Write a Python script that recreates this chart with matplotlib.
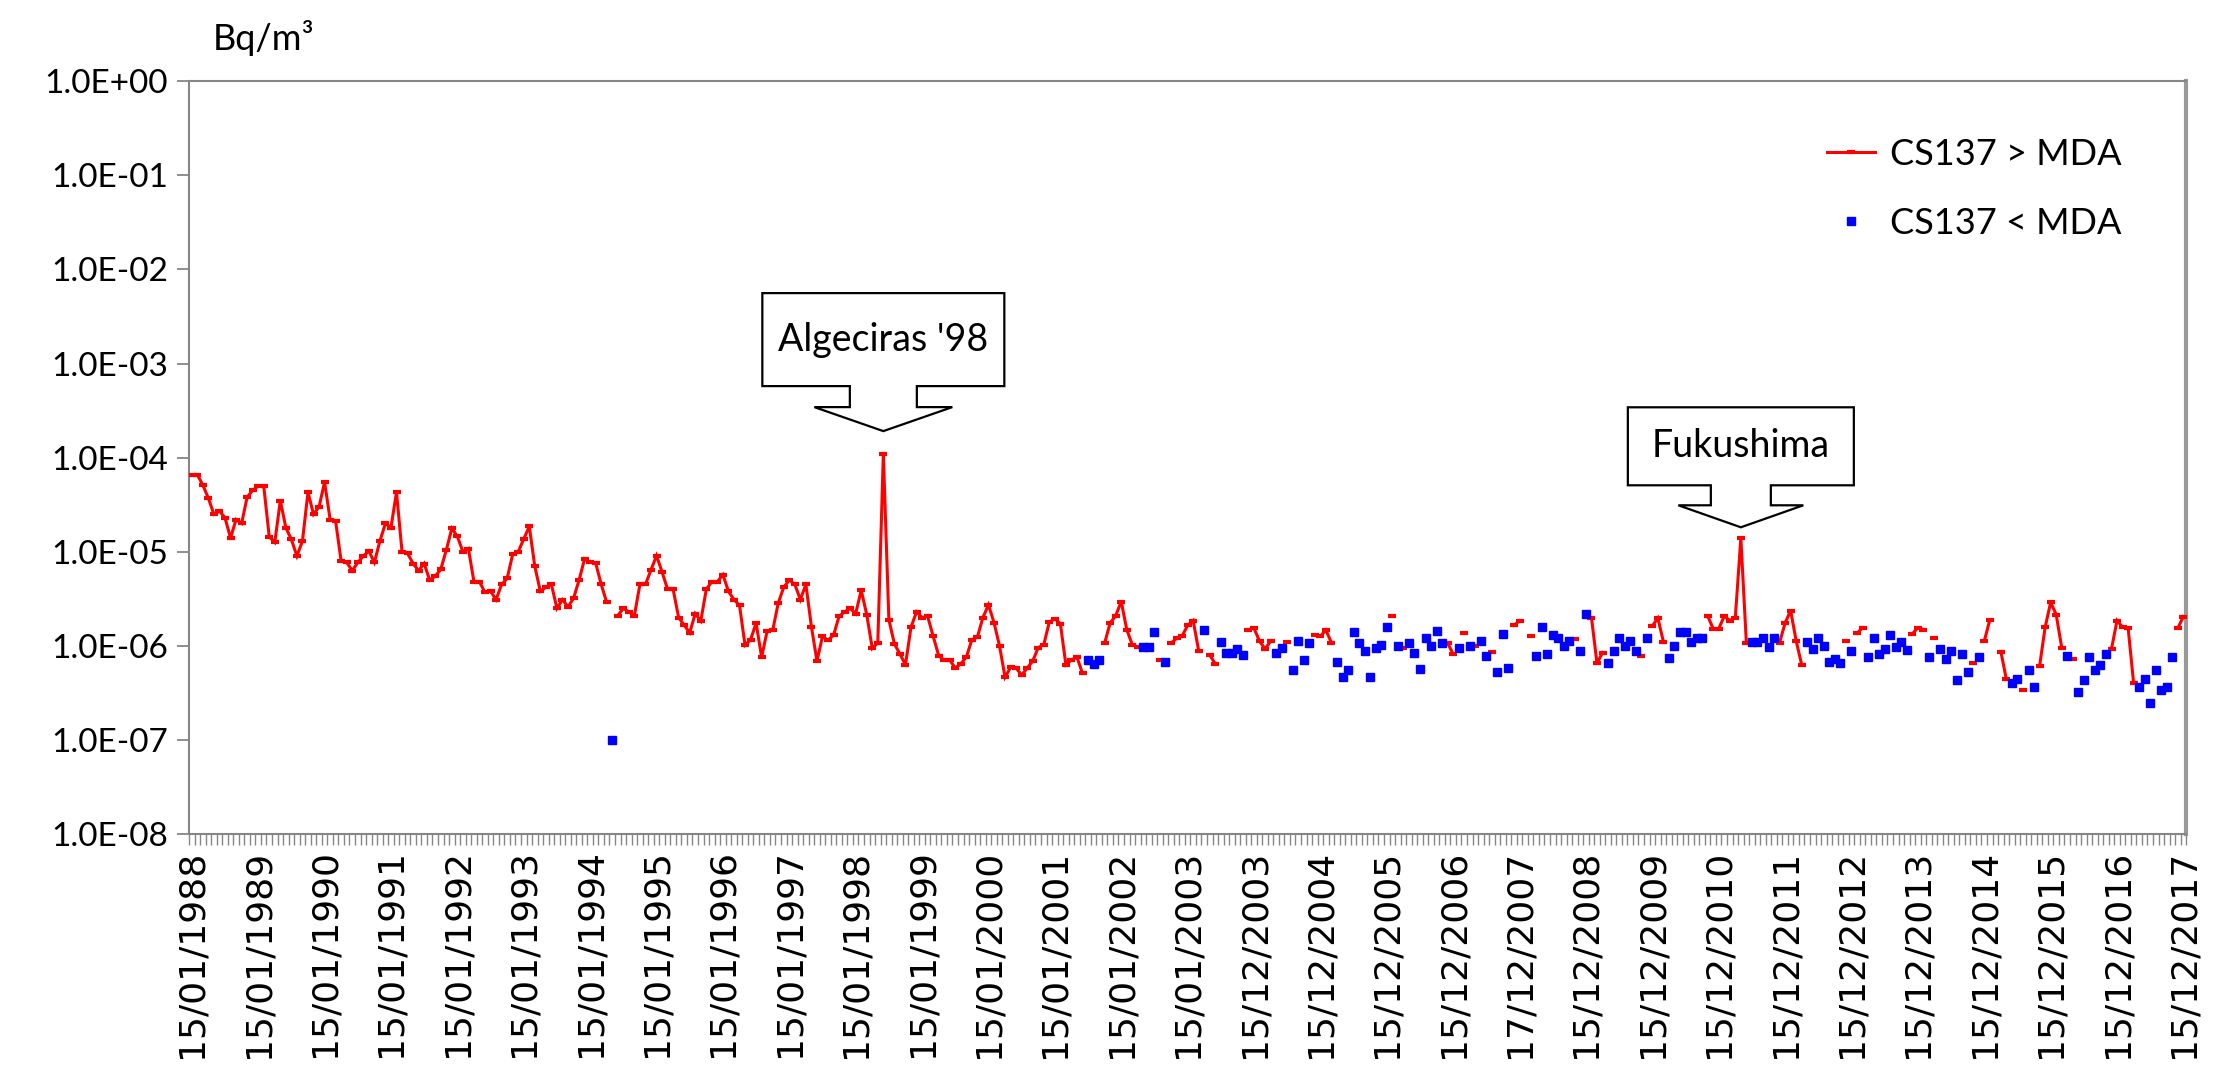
import numpy as np
import matplotlib.pyplot as plt
import matplotlib.transforms as mtransforms
from matplotlib.patches import Polygon
from matplotlib.lines import Line2D

# Cs-137 in air, one sample per month (361 samples), Bq/m3
# values above the MDA, None where the sample was below it
cs137_above = [
    6.6e-5, 6.6e-5, 5.1e-5, 3.7e-5, 2.5e-5, 2.7e-5, 2.3e-5, 1.4e-5, 2.2e-5, 2.0e-5, 3.8e-5, 4.5e-5,
    5.0e-5, 5.0e-5, 1.44e-5, 1.26e-5, 3.5e-5, 1.8e-5, 1.35e-5, 9.0e-6, 1.3e-5, 4.3e-5, 2.5e-5, 3.0e-5,
    5.5e-5, 2.2e-5, 2.1e-5, 7.9e-6, 7.7e-6, 6.3e-6, 7.7e-6, 9.0e-6, 1.02e-5, 7.7e-6, 1.3e-5, 2.0e-5,
    1.8e-5, 4.3e-5, 1.0e-5, 9.6e-6, 7.5e-6, 6.3e-6, 7.5e-6, 5.0e-6, 5.5e-6, 6.5e-6, 1.04e-5, 1.77e-5,
    1.46e-5, 1.0e-5, 1.08e-5, 4.8e-6, 4.8e-6, 3.7e-6, 3.8e-6, 3.1e-6, 4.5e-6, 5.2e-6, 9.4e-6, 1.0e-5,
    1.36e-5, 1.86e-5, 7.0e-6, 3.8e-6, 4.2e-6, 4.5e-6, 2.5e-6, 3.1e-6, 2.6e-6, 3.2e-6, 5.0e-6, 8.4e-6,
    7.7e-6, 7.6e-6, 4.5e-6, 2.9e-6, None, 2.1e-6, 2.5e-6, 2.3e-6, 2.1e-6, 4.5e-6, 4.5e-6, 6.4e-6,
    9.1e-6, 6.1e-6, 4.0e-6, 4.0e-6, 2.0e-6, 1.66e-6, 1.38e-6, 2.2e-6, 1.84e-6, 4.0e-6, 4.8e-6, 4.8e-6,
    5.7e-6, 3.8e-6, 3.1e-6, 2.7e-6, 1.02e-6, 1.16e-6, 1.75e-6, 7.6e-7, 1.44e-6, 1.46e-6, 2.85e-6, 4.2e-6,
    5.0e-6, 4.5e-6, 3.1e-6, 4.5e-6, 1.6e-6, 6.9e-7, 1.26e-6, 1.15e-6, 1.3e-6, 2.06e-6, 2.3e-6, 2.5e-6,
    2.2e-6, 3.9e-6, 2.15e-6, 9.4e-7, 1.08e-6, 1.09e-4, 1.9e-6, 1.05e-6, 8.2e-7, 6.3e-7, 1.58e-6, 2.3e-6,
    2.0e-6, 2.07e-6, 1.27e-6, 7.9e-7, 7.0e-7, 7.1e-7, 5.8e-7, 6.45e-7, 7.6e-7, 1.16e-6, 1.24e-6, 2.0e-6,
    2.73e-6, 1.77e-6, 1.0e-6, 4.65e-7, 5.9e-7, 5.8e-7, 4.9e-7, 5.8e-7, 6.9e-7, 9.6e-7, 1.03e-6, 1.79e-6,
    1.94e-6, 1.72e-6, 6.3e-7, 7.1e-7, 7.6e-7, 5.1e-7, None, None, None, 1.07e-6, 1.75e-6, 2.09e-6,
    2.96e-6, 1.49e-6, 1.03e-6, 9.7e-7, None, None, None, 7.1e-7, None, 1.07e-6, 1.2e-6, 1.27e-6,
    1.65e-6, 1.86e-6, 8.9e-7, None, 8.0e-7, 6.45e-7, None, None, None, None, None, 1.49e-6,
    1.54e-6, 1.12e-6, 9.3e-7, 1.12e-6, None, None, 1.09e-6, None, None, None, None, 1.3e-6,
    1.27e-6, 1.47e-6, 1.08e-6, None, None, None, None, None, None, None, None, None,
    None, 2.1e-6, None, 9.6e-7, None, None, None, None, None, None, None, 1.07e-6,
    8.2e-7, None, 1.36e-6, None, 1.0e-6, None, None, 8.6e-7, None, None, None, 1.65e-6,
    1.85e-6, None, 1.27e-6, None, None, None, None, None, None, None, 1.18e-6, None,
    None, 2.0e-6, 6.5e-7, 8.5e-7, None, None, None, None, None, None, 7.8e-7, None,
    1.63e-6, 1.97e-6, 1.11e-6, None, None, None, None, None, None, None, 2.09e-6, 1.52e-6,
    1.52e-6, 2.07e-6, 1.86e-6, 2.0e-6, 1.39e-5, 1.07e-6, None, None, None, None, None, 1.08e-6,
    1.75e-6, 2.37e-6, 1.13e-6, 6.3e-7, None, None, None, None, None, None, None, 1.12e-6,
    None, 1.36e-6, 1.56e-6, None, None, None, None, None, None, None, None, 1.34e-6,
    1.56e-6, 1.49e-6, None, 1.2e-6, None, None, None, None, None, None, 6.6e-7, None,
    1.12e-6, 1.89e-6, None, 8.7e-7, 4.4e-7, None, None, 3.4e-7, None, None, 6.1e-7, 1.57e-6,
    2.9e-6, 2.15e-6, 9.6e-7, None, 7.2e-7, None, None, None, None, None, None, 9.3e-7,
    1.86e-6, 1.58e-6, 1.56e-6, 4.0e-7, None, None, None, None, None, None, None, 1.55e-6,
    2.05e-6,
]

# samples below the MDA: month index and value
below_month = [
    76, 162, 163, 164, 172, 173, 174, 176, 183, 186, 187, 188, 189, 190,
    196, 197, 199, 200, 201, 202, 207, 208, 209, 210, 211, 212, 213, 214, 215, 216,
    218, 220, 221, 222, 223, 224, 225, 226, 229, 231, 233, 234, 236, 237, 238,
    243, 244, 245, 246, 247, 248, 249, 251, 252, 256, 257, 258, 259, 260, 261, 263,
    267, 268, 269, 270, 271, 272, 273, 282, 283, 284, 285, 286,
    292, 293, 294, 295, 296, 297, 298, 300, 303, 304, 305, 306, 307, 308, 309, 310,
    314, 316, 317, 318, 319, 320, 321, 323, 329, 330, 332, 333, 339,
    341, 342, 343, 344, 345, 346, 352, 353, 354, 355, 356, 357, 358,
]
below_value = [
    1.0e-7, 7.0e-7, 6.4e-7, 7.1e-7, 9.7e-7, 9.7e-7, 1.4e-6, 6.8e-7, 1.47e-6, 1.09e-6, 8.4e-7, 8.4e-7, 9.3e-7, 8.0e-7,
    8.3e-7, 9.5e-7, 5.6e-7, 1.12e-6, 7.0e-7, 1.06e-6, 6.8e-7, 4.7e-7, 5.6e-7, 1.4e-6, 1.06e-6, 8.9e-7, 4.7e-7, 9.4e-7, 1.03e-6, 1.58e-6,
    1.0e-6, 1.07e-6, 8.3e-7, 5.7e-7, 1.22e-6, 1.0e-6, 1.45e-6, 1.07e-6, 9.6e-7, 1.0e-6, 1.12e-6, 7.8e-7, 5.3e-7, 1.35e-6, 5.8e-7,
    7.8e-7, 1.6e-6, 8.1e-7, 1.32e-6, 1.22e-6, 1.0e-6, 1.12e-6, 8.8e-7, 2.2e-6, 6.6e-7, 8.9e-7, 1.22e-6, 1.0e-6, 1.12e-6, 8.9e-7, 1.22e-6,
    7.4e-7, 1.0e-6, 1.4e-6, 1.4e-6, 1.11e-6, 1.22e-6, 1.22e-6, 1.11e-6, 1.11e-6, 1.22e-6, 9.7e-7, 1.22e-6,
    1.11e-6, 9.3e-7, 1.22e-6, 1.0e-6, 6.8e-7, 7.3e-7, 6.6e-7, 8.9e-7, 7.7e-7, 1.22e-6, 8.2e-7, 9.3e-7, 1.3e-6, 9.7e-7, 1.11e-6, 9.1e-7,
    7.7e-7, 9.2e-7, 7.3e-7, 8.8e-7, 4.3e-7, 8.1e-7, 5.3e-7, 7.6e-7, 4.0e-7, 4.4e-7, 5.6e-7, 3.65e-7, 7.9e-7,
    3.2e-7, 4.3e-7, 7.6e-7, 5.6e-7, 6.3e-7, 8.1e-7, 3.65e-7, 4.4e-7, 2.5e-7, 5.5e-7, 3.4e-7, 3.7e-7, 7.7e-7,
]

date_labels = [
    "15/01/1988", "15/01/1989", "15/01/1990", "15/01/1991", "15/01/1992", "15/01/1993",
    "15/01/1994", "15/01/1995", "15/01/1996", "15/01/1997", "15/01/1998", "15/01/1999",
    "15/01/2000", "15/01/2001", "15/01/2002", "15/01/2003", "15/12/2003", "15/12/2004",
    "15/12/2005", "15/12/2006", "17/12/2007", "15/12/2008", "15/12/2009", "15/12/2010",
    "15/12/2011", "15/12/2012", "15/12/2013", "15/12/2014", "15/12/2015", "15/12/2016",
    "15/12/2017",
]

# events marked with a callout: (text, month index)
events = [("Algeciras '98", 125), ("Fukushima", 280)]

UI_FONT = "Lato"
GREY = "#868686"

above = np.array(cs137_above, dtype=float)
months = np.arange(len(above))

fig = plt.figure(figsize=(22.24, 10.68), dpi=100)
ax = fig.add_axes([0.085, 0.219, 0.898, 0.705])

ax.plot(months, above, color="#FF0000", lw=2.2, marker="_", ms=6, mew=3,
        solid_joinstyle="miter", zorder=3)
ax.plot(below_month, below_value, ls="none", marker="s", ms=5.5,
        color="#0000FF", mec="#0000FF", zorder=4)

ax.set_yscale("log")
ax.set_ylim(1e-8, 1)
ax.set_xlim(-0.5, len(above) - 0.5)

ax.set_yticks([10.0 ** k for k in range(-8, 1)])
ax.yaxis.set_minor_locator(plt.NullLocator())
ax.set_yticklabels(["%.1E" % (10.0 ** k) for k in range(-8, 1)],
                   fontfamily=UI_FONT, fontsize=24)
ax.tick_params(axis="y", which="major", length=9, width=1.3, color=GREY, pad=6)

ax.set_xticks(np.arange(0, len(above), 12))
ax.set_xticklabels(date_labels, rotation=90, fontfamily="DejaVu Sans",
                   fontsize=26, va="top", ha="center")
ax.set_xticks(np.arange(-0.5, len(above), 1), minor=True)
ax.tick_params(axis="x", which="major", length=0, pad=11)
ax.tick_params(axis="x", which="minor", length=8, width=1, color=GREY)

for side in ["left", "bottom", "top"]:
    ax.spines[side].set_color(GREY)
    ax.spines[side].set_linewidth(1.5)
ax.spines["right"].set_color("#999999")
ax.spines["right"].set_linewidth(3)

ax.text(0.012, 1.057, "Bq/m³", transform=ax.transAxes, fontfamily=UI_FONT,
        fontsize=26, va="center", ha="left")

handles = [
    Line2D([], [], color="#FF0000", lw=2.2, marker="_", ms=6, mew=3),
    Line2D([], [], ls="none", marker="s", ms=5.5, color="#0000FF"),
]
ax.legend(handles, ["CS137 > MDA", "CS137 < MDA"], loc="upper left",
          bbox_to_anchor=(0.82, 0.925), frameon=False, borderpad=0,
          borderaxespad=0, handlelength=1.35, handletextpad=0.4,
          labelspacing=1.0, prop={"family": UI_FONT, "size": 26})

# down-arrow callout shapes, sizes in pixels: lift, box w/h, stem w/h, head w/h
shapes = {
    "Algeciras '98": (23, 242, 93, 67, 21, 138, 24),
    "Fukushima": (11, 226, 78, 60, 20, 125, 22),
}
ident = mtransforms.IdentityTransform()
for label, m in events:
    lift, bw, bh, sw, sh, hw, hh = shapes[label]
    tx, ty = ax.transData.transform((m, above[m]))
    ty += lift
    pts = [
        (0, 0), (hw / 2, hh), (sw / 2, hh), (sw / 2, hh + sh), (bw / 2, hh + sh),
        (bw / 2, hh + sh + bh), (-bw / 2, hh + sh + bh), (-bw / 2, hh + sh),
        (-sw / 2, hh + sh), (-sw / 2, hh), (-hw / 2, hh),
    ]
    verts = [(tx + dx, ty + dy) for dx, dy in pts]
    fig.add_artist(Polygon(verts, closed=True, facecolor="white",
                           edgecolor="black", lw=1.6, transform=ident, zorder=5))
    fig.text(tx, ty + hh + sh + bh / 2, label, transform=ident, ha="center",
             va="center", fontfamily=UI_FONT, fontsize=27, zorder=6)

fig.savefig("out.png", dpi=100)
